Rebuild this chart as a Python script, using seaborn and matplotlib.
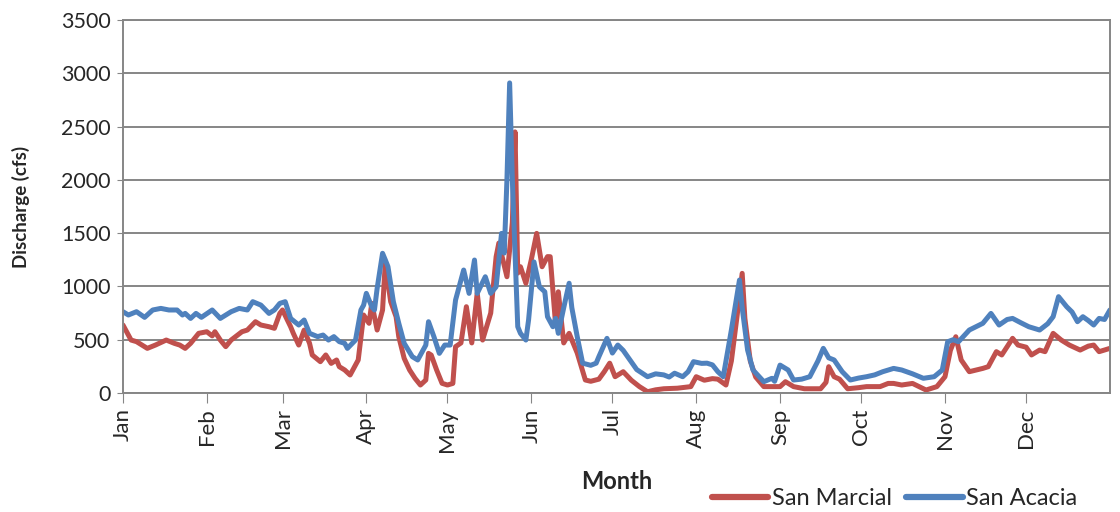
import matplotlib
matplotlib.use("Agg")
import matplotlib.pyplot as plt
import pandas as pd
import seaborn as sns

# Daily discharge (day of year, cfs)
marcial_day = [0, 3, 5, 9, 12, 16, 19, 21, 23, 25, 28, 31, 33, 34, 36, 38, 40, 44, 46, 49,
               51, 54, 56, 58, 59, 62, 63, 65, 67, 69, 70, 73, 75, 77, 79, 80, 82, 84, 86, 87,
               89, 91, 92, 94, 96, 97, 99, 101, 102, 104, 106, 108, 110, 112, 113, 114, 116, 118, 120, 122,
               123, 125, 127, 129, 131, 133, 136, 138, 139, 142, 144, 145, 146, 147, 149, 151, 153, 155, 157, 158,
               160, 161, 163, 165, 168, 171, 173, 176, 178, 180, 182, 185, 188, 191, 194, 197, 200, 205, 210, 212,
               215, 218, 220, 223, 225, 227, 229, 230, 232, 234, 237, 241, 243, 245, 248, 252, 258, 260, 261, 263,
               265, 268, 272, 275, 280, 283, 285, 288, 292, 297, 301, 304, 306, 308, 310, 313, 318, 320, 323, 325,
               329, 331, 334, 336, 339, 341, 344, 347, 350, 354, 357, 359, 361, 365]
marcial_cfs = [638, 497, 482, 419, 450, 497, 466, 450, 419, 466, 560, 575, 536, 575, 497, 435, 497, 575, 591, 669,
               638, 622, 607, 747, 779, 622, 560, 450, 591, 466, 357, 294, 357, 278, 310, 247, 216, 169, 263, 310,
               732, 654, 841, 591, 779, 1217, 857, 716, 528, 325, 216, 138, 75, 122, 372, 356, 216, 91, 75, 90,
               435, 470, 810, 470, 938, 497, 750, 1279, 1407, 1091, 1600, 2450, 1125, 1185, 1030, 1250, 1498, 1185, 1280, 1279,
               640, 950, 470, 560, 375, 122, 110, 130, 200, 280, 153, 200, 120, 60, 12, 30, 40, 45, 60, 153,
               120, 135, 130, 75, 300, 700, 1123, 700, 300, 150, 60, 60, 60, 106, 60, 40, 40, 100, 247, 153,
               130, 40, 50, 60, 60, 90, 90, 75, 90, 28, 60, 153, 400, 528, 310, 200, 231, 247, 388, 357,
               513, 450, 430, 357, 403, 388, 560, 497, 450, 403, 440, 450, 388, 419]

acacia_day = [0, 2, 5, 8, 11, 14, 17, 20, 22, 23, 25, 27, 29, 33, 36, 38, 40, 43, 46, 48,
              51, 54, 56, 58, 60, 62, 65, 67, 69, 72, 74, 76, 78, 80, 82, 83, 86, 88, 89, 90,
              92, 93, 94, 96, 97, 98, 100, 102, 104, 107, 109, 112, 113, 115, 117, 119, 121, 123, 126, 128,
              130, 131, 134, 136, 138, 140, 141, 142, 143, 144, 146, 147, 149, 150, 152, 154, 156, 157, 159, 160,
              161, 163, 165, 166, 168, 170, 173, 175, 176, 179, 181, 183, 185, 190, 194, 197, 200, 202, 204, 207,
              209, 211, 214, 216, 218, 220, 222, 225, 227, 228, 229, 231, 233, 237, 240, 241, 243, 246, 248, 251,
              254, 257, 259, 261, 263, 266, 269, 272, 275, 278, 281, 283, 285, 288, 292, 296, 300, 303, 305, 307,
              309, 313, 318, 321, 324, 327, 329, 332, 335, 339, 342, 344, 346, 349, 351, 353, 355, 357, 359, 361,
              363, 365]
acacia_cfs = [763, 732, 763, 710, 779, 794, 779, 779, 732, 747, 700, 747, 710, 779, 700, 732, 763, 794, 779, 857,
              825, 747, 779, 841, 857, 700, 638, 685, 560, 529, 544, 497, 529, 482, 466, 419, 497, 779, 825, 935,
              810, 779, 982, 1311, 1250, 1186, 857, 654, 466, 341, 310, 450, 669, 528, 372, 450, 450, 873, 1154, 935,
              1248, 935, 1091, 935, 997, 1498, 1313, 2000, 2910, 2000, 622, 560, 497, 685, 1230, 997, 950, 716, 622, 700,
              560, 800, 1030, 800, 528, 280, 260, 280, 341, 513, 375, 450, 400, 220, 153, 180, 170, 150, 186, 153,
              200, 294, 278, 280, 264, 200, 153, 591, 900, 1060, 800, 403, 216, 106, 138, 110, 262, 216, 122, 130,
              153, 300, 419, 330, 310, 200, 122, 140, 153, 170, 200, 216, 231, 216, 180, 138, 153, 216, 481, 500,
              481, 591, 654, 747, 638, 690, 700, 660, 622, 591, 650, 716, 904, 810, 760, 669, 716, 680, 638, 700,
              690, 779]

month_starts = [0, 31, 59, 90, 120, 151, 181, 212, 243, 273, 304, 334]
month_labels = ["Jan", "Feb", "Mar", "Apr", "May", "Jun", "Jul", "Aug", "Sep", "Oct", "Nov", "Dec"]

df = pd.concat([
    pd.DataFrame({"day": marcial_day, "cfs": marcial_cfs, "station": "San Marcial"}),
    pd.DataFrame({"day": acacia_day, "cfs": acacia_cfs, "station": "San Acacia"}),
])

sns.set_style("white")
plt.rcParams["font.family"] = ["Lato", "DejaVu Sans"]

grid_col = "#868686"
fig = plt.figure(figsize=(11.2, 5.12), dpi=100)
ax = fig.add_axes([0.1098, 0.2324, 0.8812, 0.7285])

sns.lineplot(data=df, x="day", y="cfs", hue="station", sort=False,
             palette={"San Marcial": "#C0504D", "San Acacia": "#4F81BD"},
             linewidth=3.6, ax=ax, legend=False)

ax.set_xlim(0, 365)
ax.set_ylim(0, 3500)
ax.set_yticks(range(0, 3501, 500))
ax.tick_params(axis="y", labelsize=15.5, length=4, color=grid_col, direction="out", left=True, pad=5)
ax.set_xticks(month_starts)
ax.set_xticklabels(month_labels, rotation=90, fontsize=16)
ax.tick_params(axis="x", length=7, color=grid_col, direction="out", bottom=True, pad=4)
ax.grid(axis="y", color=grid_col, linewidth=1.4)
ax.grid(axis="x", visible=False)
for s in ax.spines.values():
    s.set_color(grid_col)
    s.set_linewidth(1.4)

ax.set_ylabel("Discharge (cfs)", fontsize=13.5, fontweight="bold", labelpad=22)
ax.set_xlabel("Month", fontsize=17, fontweight="bold", labelpad=13)

handles = [plt.Line2D([], [], color="#C0504D", linewidth=4.5),
           plt.Line2D([], [], color="#4F81BD", linewidth=4.5)]
fig.legend(handles, ["San Marcial", "San Acacia"], loc="lower right",
           bbox_to_anchor=(0.981, -0.036), ncol=2, frameon=False, fontsize=17,
           handlelength=2.4, columnspacing=0.6, handletextpad=0.15)

fig.savefig("out.png", dpi=100)
